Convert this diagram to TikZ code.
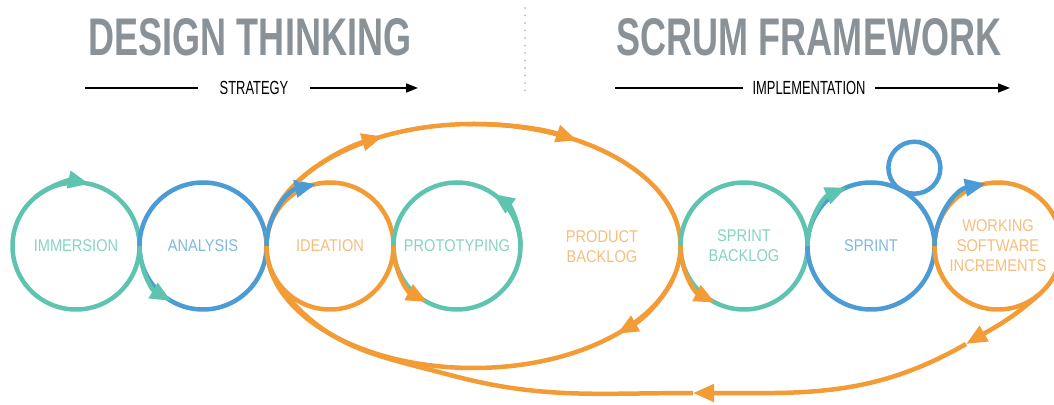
\documentclass[tikz,border=0pt]{standalone}
\usepackage{fontspec}
\usepackage{tikz}
\usetikzlibrary{arrows.meta,calc,positioning}
\setmainfont{Liberation Sans}
\newfontfamily\titlefont[FakeStretch=0.68]{Liberation Sans}
\newfontfamily\labelfont[FakeStretch=0.86]{Liberation Sans}
\definecolor{dtteal}{HTML}{5EC4B0}
\definecolor{dtblue}{HTML}{4A9BD6}
\definecolor{dtorange}{HTML}{F39B34}
\definecolor{dtgray}{HTML}{8A9297}

\begin{document}
\begin{tikzpicture}[x=1pt,y=1pt]
\tikzset{phase/.style={circle,minimum size=127pt,inner sep=0pt,outer sep=0pt,align=center,
font=\labelfont\fontsize{17}{20}\selectfont}}
\tikzset{ring/.style={line width=4.5pt}}
\tikzset{flow/.style={line width=4.5pt,-{Triangle[length=21pt,width=17pt]}}}
\tikzset{heading/.style={font=\titlefont\bfseries\fontsize{53}{53}\selectfont,text=dtgray}}
\tikzset{subheading/.style={font=\titlefont\fontsize{19}{19}\selectfont,inner xsep=21pt}}
\tikzset{rule/.style={line width=1.8pt}}
\useasboundingbox (0,0) rectangle (1054,404);

% headings
\node [heading] (dt) at (250,367) {DESIGN THINKING};
\node [heading] (sf) at (809,367) {SCRUM FRAMEWORK};
\node [subheading] (strat) at (254,316) {STRATEGY};
\node [subheading,inner xsep=9pt] (impl) at (809,316) {IMPLEMENTATION};
\coordinate (s0) at (85,316);
\coordinate (s1) at (418,316);
\coordinate (i0) at (615,316);
\coordinate (i1) at (1010,316);
\draw [rule] (s0) -- (strat.west);
\draw [rule,-{Triangle[length=12pt,width=9pt]}] (strat.east) -- (s1);
\draw [rule] (i0) -- (impl.west);
\draw [rule,-{Triangle[length=12pt,width=9pt]}] (impl.east) -- (i1);
\coordinate (d0) at (525,396);
\coordinate (d1) at (525,309);
\draw [gray!55,line width=2pt,dash pattern=on 0pt off 7.5pt,line cap=round] (d0) -- (d1);

% phases
\node [phase,text=dtteal!75!white] (imm) at (76,158) {IMMERSION};
\node [phase,text=dtblue!70!white] (ana) at (203,158) {ANALYSIS};
\node [phase,text=dtorange!65!white] (ide) at (330,158) {IDEATION};
\node [phase,text=dtteal!75!white] (pro) at (457,158) {PROTOTYPING};
\coordinate (pbc) at (473.5,158);
\node [phase,circle,minimum size=0pt,text=dtorange!65!white] (pb) at (602,157) {PRODUCT\\BACKLOG};
\node [phase,text=dtteal!75!white] (sbl) at (744,158) {SPRINT\\BACKLOG};
\node [phase,text=dtblue!70!white] (spr) at (871,158) {SPRINT};
\node [phase,text=dtorange!65!white] (wsi) at (998,158) {WORKING\\SOFTWARE\\INCREMENTS};
\node [circle,minimum size=52pt,inner sep=0pt,draw=dtblue,ring] (daily) at ($(spr.center)+(61:89.5)$) {};

% rings
\draw [ring,dtteal] (imm) circle [radius=63.5];
\draw [ring,dtblue] (ana) circle [radius=63.5];
\draw [ring,dtorange] (pbc) ellipse [x radius=207,y radius=122];
\draw [ring,dtorange] (ide) circle [radius=63.5];
\draw [ring,dtteal] (pro) circle [radius=63.5];
\draw [ring,dtteal] (sbl) circle [radius=63.5];
\draw [ring,dtblue] (spr) circle [radius=63.5];
\draw [ring,dtorange] (wsi) circle [radius=63.5];

% hand-overs
\draw [flow,dtteal] (imm.130) arc [start angle=130,end angle=78,radius=63.5];
\draw [flow,dtteal] (ana.180) arc [start angle=180,end angle=240,radius=63.5];
\draw [flow,dtblue] (ide.180) arc [start angle=180,end angle=103,radius=63.5];
\draw [flow,dtorange] (pro.180) arc [start angle=180,end angle=242,radius=63.5];
\draw [flow,dtteal] (pro.0) arc [start angle=0,end angle=55,radius=63.5];
\draw [flow,dtorange] ($(pbc)+(148:207 and 122)$) arc [start angle=148,end angle=116,x radius=207,y radius=122];
\draw [flow,dtorange] ($(pbc)+(92:207 and 122)$) arc [start angle=92,end angle=60,x radius=207,y radius=122];
\draw [flow,dtorange] ($(pbc)+(-16:207 and 122)$) arc [start angle=-16,end angle=-46,x radius=207,y radius=122];
\draw [flow,dtorange] (sbl.180) arc [start angle=180,end angle=243,radius=63.5];
\draw [flow,dtteal] (spr.180) arc [start angle=180,end angle=113,radius=63.5];
\draw [flow,dtblue] (wsi.180) arc [start angle=180,end angle=101,radius=63.5];

% back to the backlog
\coordinate (la1) at (966,60);
\coordinate (la2) at (693,11);
\coordinate (la3) at (450,29);
\coordinate (mrg) at (286,109);
\draw [flow,dtorange] (wsi.-50) to [out=-138,in=30] (la1);
\draw [flow,dtorange] (la1) to [out=210,in=0] (la2);
\draw [ring,dtorange] (la2) to [out=180,in=-15] (la3) to [out=165,in=-50] (mrg);
\end{tikzpicture}
\end{document}
